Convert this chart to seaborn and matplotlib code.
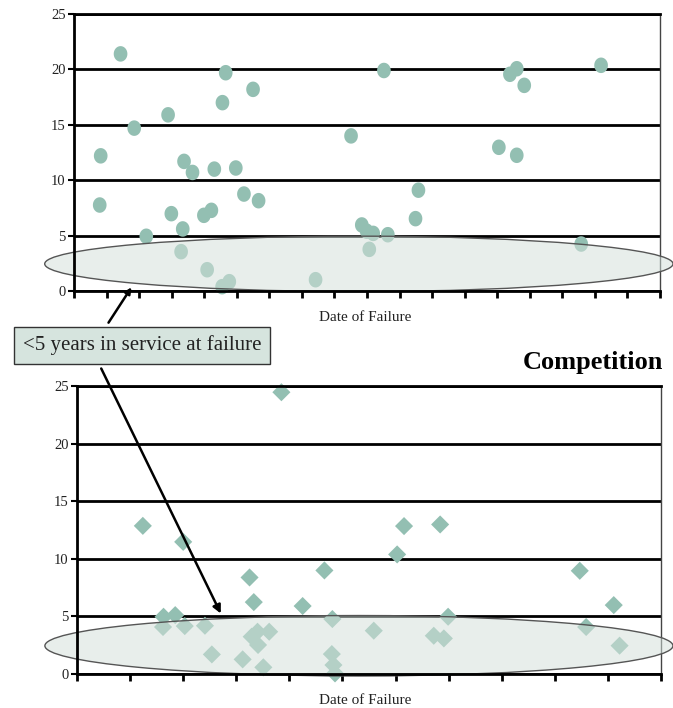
import matplotlib
matplotlib.use("Agg")
import matplotlib.pyplot as plt
import seaborn as sns
import pandas as pd
import numpy as np
from matplotlib.patches import Ellipse, FancyArrowPatch
from matplotlib.path import Path

# ---------------- data ----------------
# Top chart (circles): date position (tick units) and years in service at failure
top_x = [1.43, 4.66, 5.50, 4.56, 2.89, 1.85, 0.82, 3.38, 3.64, 4.31, 4.97, 5.22, 5.67,
         0.79, 2.99, 3.99, 4.22, 3.34, 2.22, 3.29, 4.09, 4.55, 4.77,
         9.52, 8.51, 10.58, 10.49, 8.84, 8.99, 9.19, 9.64, 9.07, 7.42,
         13.39, 13.60, 13.83, 16.19, 13.05, 13.60, 15.58]
top_y = [21.4, 19.7, 18.2, 17.0, 15.9, 14.7, 12.2, 11.7, 10.7, 11.0, 11.1, 8.75, 8.15,
         7.76, 6.98, 6.83, 7.28, 5.6, 4.94, 3.55, 1.92, 0.39, 0.84,
         19.9, 14.0, 9.1, 6.53, 5.96, 5.4, 5.2, 5.08, 3.76, 1.02,
         19.56, 20.06, 18.56, 20.37, 12.97, 12.25, 4.24]

# Bottom chart "Competition" (diamonds)
comp_x = [1.24, 2.00, 3.25, 3.33, 1.63, 1.85, 1.62, 2.03, 2.41, 2.54, 3.12, 3.29, 3.40,
          3.41, 3.51, 3.62, 3.85, 4.66, 4.25, 4.81, 5.59, 4.80, 4.83, 4.86,
          6.16, 6.84, 6.03, 6.99, 6.72, 6.91, 9.47, 10.11, 9.59, 10.22]
comp_y = [12.86, 11.47, 8.38, 6.24, 4.97, 5.11, 4.08, 4.16, 4.19, 1.70, 1.27, 3.24, 3.67,
          2.52, 0.58, 3.67, 24.46, 8.99, 5.90, 4.77, 3.76, 1.73, 0.78, 0.05,
          12.84, 12.98, 10.38, 4.97, 3.32, 3.09, 8.96, 5.98, 4.08, 2.46]

y_ticks = [0, 5, 10, 15, 20, 25]
top_xmax = 18
comp_xmax = 11

title_comp = "Competition"
x_label = "Date of Failure"
note = "<5 years in service at failure"

# ---------------- style ----------------
W, H = 673, 708
sns.set_style("white")
plt.rcParams['font.family'] = ['Liberation Serif', 'DejaVu Serif']

pt_color = "#93bfb2"
ell_face = (211 / 255, 224 / 255, 218 / 255, 0.52)
ell_edge = "#555555"

# slightly tall oval marker
_t = np.linspace(0, 2 * np.pi, 60)
oval = Path(np.column_stack([0.88 * np.cos(_t), np.sin(_t)]), closed=True)

fig = plt.figure(figsize=(W / 100, H / 100), dpi=100)

def fx(px):
    return px / W

def fy(py):
    return 1 - py / H

ax1 = fig.add_axes([fx(74), fy(291), (660 - 74) / W, (291 - 14) / H])
ax2 = fig.add_axes([fx(77), fy(674), (661 - 77) / W, (674 - 386) / H])

df_top = pd.DataFrame({"x": top_x, "y": top_y})
df_comp = pd.DataFrame({"x": comp_x, "y": comp_y})

sns.scatterplot(data=df_top, x="x", y="y", ax=ax1, marker=oval, s=125,
                color=pt_color, edgecolor="none", zorder=2, clip_on=False)
sns.scatterplot(data=df_comp, x="x", y="y", ax=ax2, marker="D", s=85,
                color=pt_color, edgecolor="none", zorder=2, clip_on=False)

for ax, xmax in ((ax1, top_xmax), (ax2, comp_xmax)):
    ax.set_xlim(0, xmax)
    ax.set_ylim(0, 25)
    ax.set_yticks(y_ticks)
    ax.set_xticks(range(0, xmax + 1))
    ax.set_xticklabels([])
    ax.set_xlabel("")
    ax.set_ylabel("")
    ax.grid(axis="y", color="black", lw=2, zorder=1)
    ax.grid(axis="x", visible=False)
    ax.set_axisbelow(True)
    for side in ("left", "bottom"):
        ax.spines[side].set_color("black")
        ax.spines[side].set_linewidth(2)
        ax.spines[side].set_zorder(5)
    ax.spines["top"].set_color("black")
    ax.spines["top"].set_linewidth(2)
    ax.spines["right"].set_color("#444444")
    ax.spines["right"].set_linewidth(1)
    ax.tick_params(axis="x", direction="out", length=5, width=2, color="black", bottom=True)
    ax.tick_params(axis="y", direction="out", length=4, width=1.5, color="black",
                   left=True, labelsize=10.5, pad=2, labelcolor="#222222")
    ax.set_facecolor("white")

ax1.add_patch(Ellipse((8.75, 2.45), 19.3, 5.0, facecolor=ell_face, edgecolor=ell_edge,
                      lw=1, zorder=3, clip_on=False))
ax2.add_patch(Ellipse((5.31, 2.45), 11.83, 5.25, facecolor=ell_face, edgecolor=ell_edge,
                      lw=1, zorder=3, clip_on=False))

fig.text(fx(365), fy(317), x_label, ha="center", va="center", fontsize=11, color="#222222")
fig.text(fx(365), fy(700), x_label, ha="center", va="center", fontsize=11, color="#222222")
fig.text(fx(663), fy(363), title_comp, ha="right", va="center", fontsize=19,
         fontweight="bold", color="black")

# annotation box
fig.text(fx(142), fy(345.5), note, ha="center", va="center", fontsize=15, color="#222222",
         bbox=dict(boxstyle="square,pad=0.4", facecolor="#d6e4de", edgecolor="#333333", lw=1),
         zorder=10)

arr1 = FancyArrowPatch((fx(107), fy(325)), (fx(133), fy(285)), transform=fig.transFigure,
                       arrowstyle="-|>", mutation_scale=9, lw=1.8, color="black", zorder=9)
arr2 = FancyArrowPatch((fx(100), fy(366)), (fx(222), fy(616)), transform=fig.transFigure,
                       arrowstyle="-|>", mutation_scale=12, lw=1.8, color="black", zorder=9)
fig.add_artist(arr1)
fig.add_artist(arr2)

fig.savefig("out.png", dpi=100)
